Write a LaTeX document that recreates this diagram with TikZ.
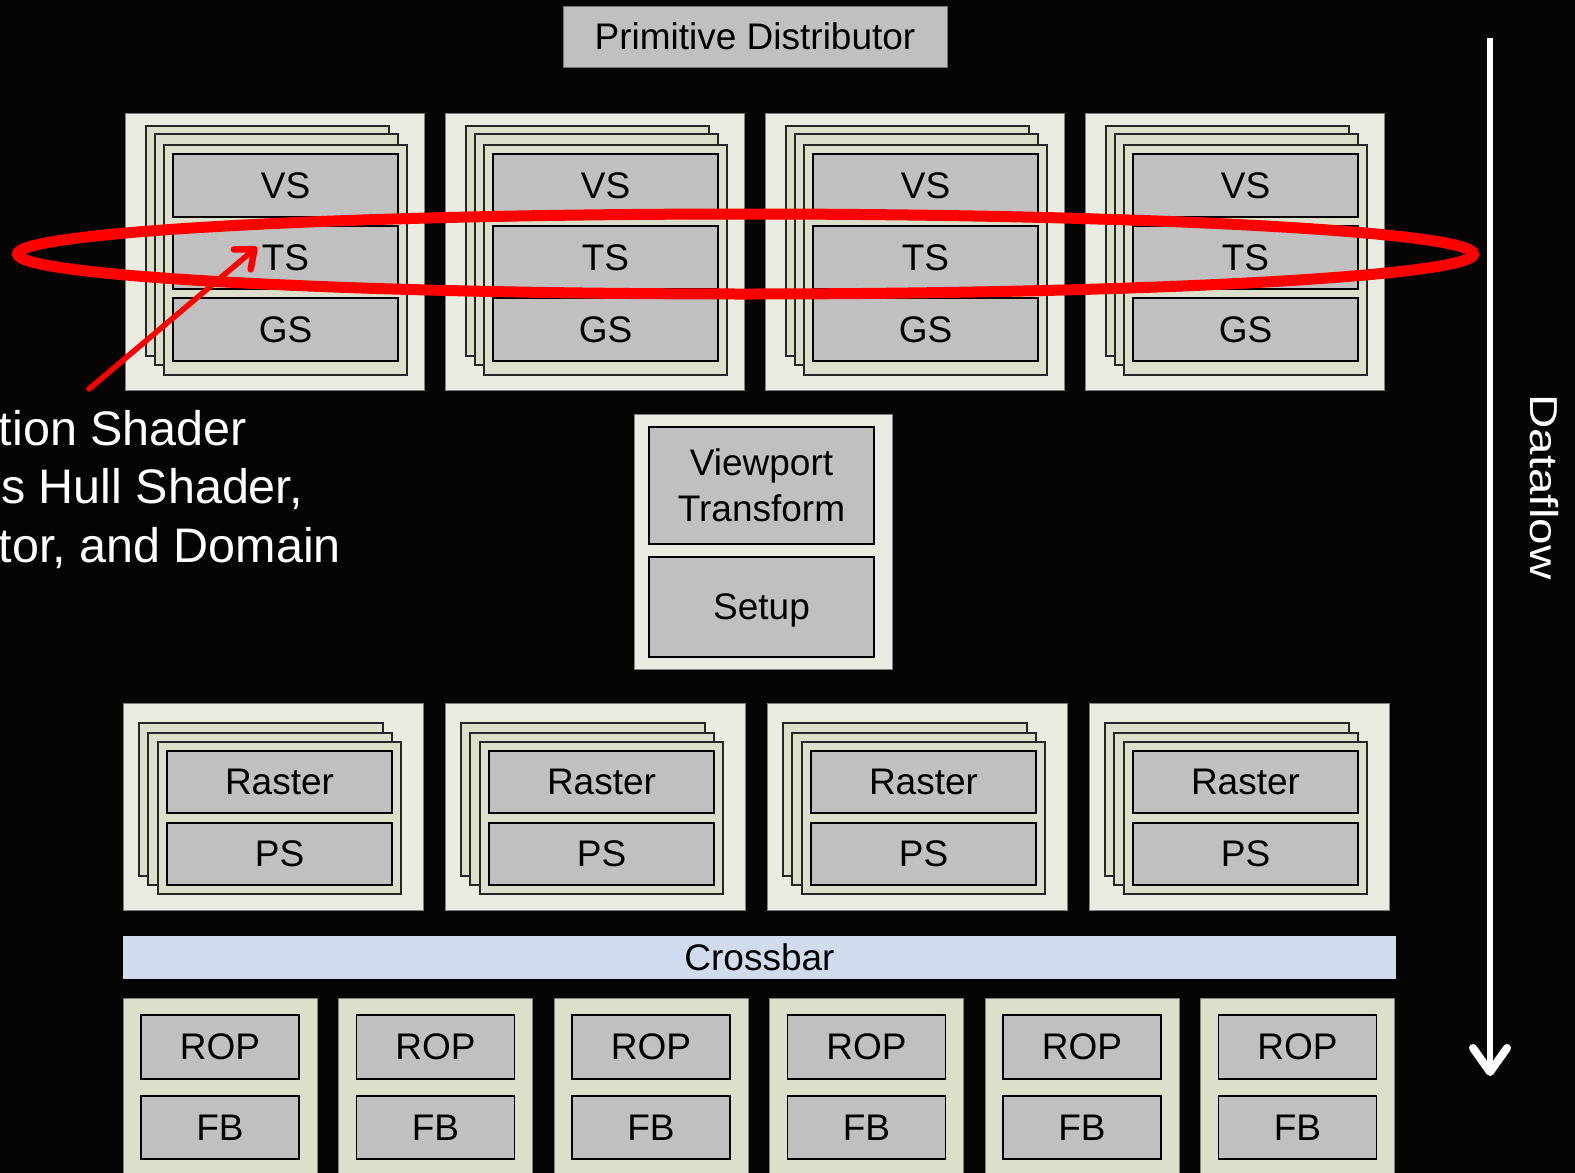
\documentclass[tikz,border=0pt]{standalone}
\usepackage{fontspec}
\setmainfont{Liberation Sans}
\newfontfamily\flowfont[FakeStretch=1.22]{Liberation Sans}
\usetikzlibrary{arrows.meta}
\definecolor{bgcol}{HTML}{040503}
\definecolor{panelcol}{HTML}{EAECE1}
\definecolor{cardcol}{HTML}{DCE0CB}
\definecolor{unitcol}{HTML}{C0C0C0}
\definecolor{xbarcol}{HTML}{D0DCEE}
\definecolor{ringred}{HTML}{FF0000}
\begin{document}
\begin{tikzpicture}[x=1pt,y=-1pt,
  every node/.style={inner sep=0pt, outer sep=0pt},
  panel/.style={draw=black!50, fill=panelcol, line width=1pt, anchor=north west},
  ropblock/.style={draw=black!50, fill=cardcol, line width=1pt, anchor=north west},
  card/.style={draw=black!85, fill=cardcol, line width=1.4pt, anchor=north west},
  unit/.style={draw=black, fill=unitcol, line width=1.5pt, anchor=north west,
    font=\fontsize{37}{46}\selectfont, align=center},
  sidetext/.style={text=white, anchor=base east, font=\fontsize{48.5}{58}\selectfont}
]
% background and bounding box
\fill[bgcol] (0,0) rectangle (1575,1173);
\useasboundingbox (0,0) rectangle (1575,1173);

% Primitive distributor
\node[unit, draw=black!55, line width=1pt, minimum width=384, minimum height=61] (pd) at (563,6) {Primitive Distributor};

% Top clusters: VS / TS / GS
\foreach \i in {0,...,3}{
  \pgfmathsetmacro\xo{125+320*\i}
  \node[panel, minimum width=299, minimum height=277] (tp\i) at (\xo,113) {};
  \node[card, minimum width=243, minimum height=230] (tca\i) at (\xo+21,126) {};
  \node[card, minimum width=243, minimum height=231] (tcb\i) at (\xo+30,134) {};
  \node[card, minimum width=243, minimum height=230] (tcc\i) at (\xo+39,145) {};
  \node[unit, minimum width=225, minimum height=63] (vs\i) at (\xo+48,154) {VS};
  \node[unit, minimum width=225, minimum height=63] (ts\i) at (\xo+48,226) {TS};
  \node[unit, minimum width=225, minimum height=63] (gs\i) at (\xo+48,298) {GS};
}

% Viewport / Setup
\node[panel, minimum width=258, minimum height=255] (vpanel) at (634,414) {};
\node[unit, minimum width=225, minimum height=117] (viewport) at (649,427) {Viewport\\Transform};
\node[unit, minimum width=225, minimum height=100, text depth=0pt] (setup) at (649,557) {Setup};

% Raster clusters
\foreach \i in {0,...,3}{
  \pgfmathsetmacro\xo{123+322*\i}
  \node[panel, minimum width=300, minimum height=207] (rp\i) at (\xo,703) {};
  \node[card, minimum width=244, minimum height=153] (rca\i) at (\xo+16,723) {};
  \node[card, minimum width=244, minimum height=152] (rcb\i) at (\xo+25,733) {};
  \node[card, minimum width=243, minimum height=152] (rcc\i) at (\xo+35,742) {};
  \node[unit, minimum width=225, minimum height=62] (raster\i) at (\xo+44,751) {Raster};
  \node[unit, minimum width=225, minimum height=62] (ps\i) at (\xo+44,823) {PS};
}

% Crossbar
\node[fill=xbarcol, anchor=north west, minimum width=1273, minimum height=43,
  font=\fontsize{37}{46}\selectfont] (crossbar) at (123,936) {Crossbar};

% ROP / FB
\foreach \i in {0,...,5}{
  \pgfmathsetmacro\xo{123+215.5*\i}
  \node[ropblock, minimum width=194, minimum height=200] (rb\i) at (\xo,998) {};
  \node[unit, minimum width=158, minimum height=64] (rop\i) at (\xo+18,1015) {ROP};
  \node[unit, minimum width=158, minimum height=63] (fb\i) at (\xo+18,1096) {FB};
}

% Dataflow arrow
\coordinate (flowtop) at (1490,38);
\coordinate (flowend) at (1490,1076);
\draw[white, line width=6, -{Straight Barb[length=24, width=34, line width=8, round]}] (flowtop) -- (flowend);
\node[text=white, rotate=-90, font=\flowfont\fontsize{39}{40}\selectfont] (flowlabel) at (1544,487) {Dataflow};

% Red ring around TS row
\draw[ringred, line width=11] (745.5,254) ellipse [x radius=728, y radius=40];

% Red callout arrow
\coordinate (callout) at (89,389);
\coordinate (tstip) at (257,247);
\draw[ringred, line width=5.5, line cap=round, -{Straight Barb[length=16, width=26, line width=6.5, round]}] (callout) -- (tstip);

% Side text (cut at left edge)
\node[sidetext] (side1) at (247,445) {tion Shader};
\node[sidetext] (side2) at (303,503) {s Hull Shader,};
\node[sidetext] (side3) at (341,562) {tor, and Domain};
\end{tikzpicture}
\end{document}
